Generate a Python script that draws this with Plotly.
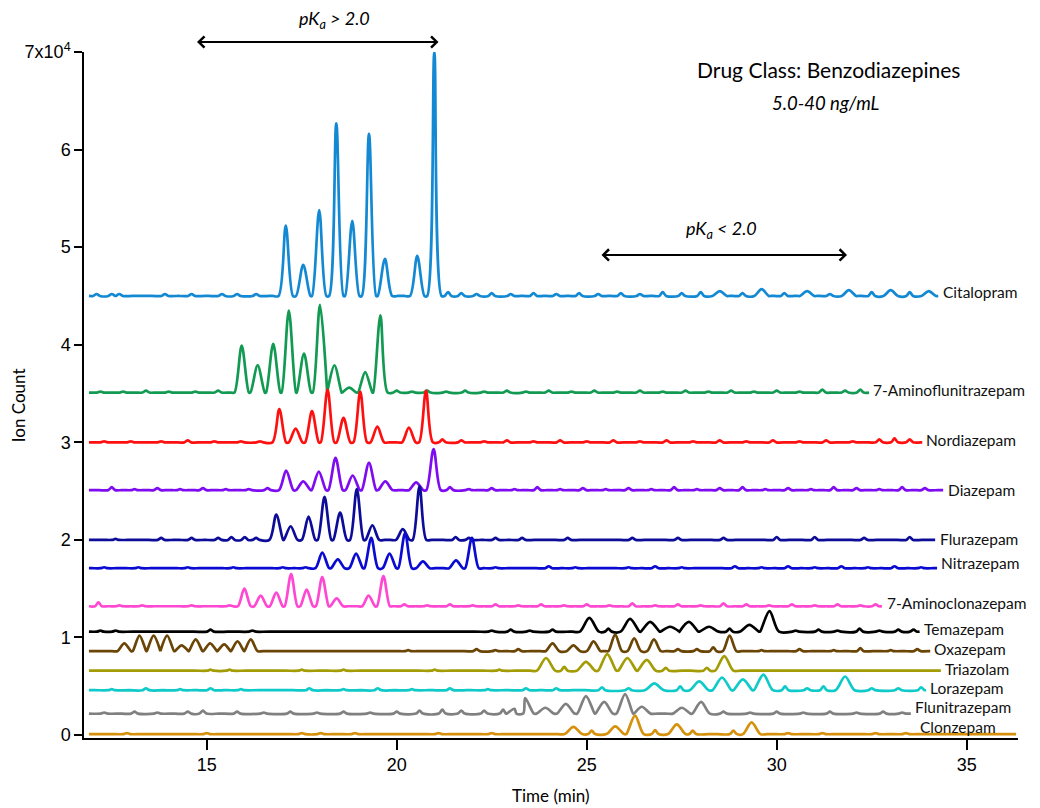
import plotly.graph_objects as go

# ---------------- data (ion count in units of 1e4, time in min) ----------------
names = ["Citalopram", "7-Aminoflunitrazepam", "Nordiazepam", "Diazepam", "Flurazepam",
         "Nitrazepam", "7-Aminoclonazepam", "Temazepam", "Oxazepam", "Triazolam",
         "Lorazepam", "Flunitrazepam", "Clonzepam"]
colors = ["#1489d3", "#129a52", "#ff1010", "#7f0cf0", "#0c0c98", "#0a0ad2", "#ff48d2",
          "#000000", "#6b4506", "#a39c05", "#10c9c9", "#808080", "#d5900c"]
baselines = [4.50, 3.51, 3.00, 2.51, 2.00, 1.71, 1.32, 1.06, 0.86, 0.66, 0.46, 0.22, 0.01]
start_time = [11.9, 11.9, 11.9, 11.9, 11.9, 11.9, 11.9, 11.9, 11.9, 11.9, 11.9, 11.9, 11.9]
end_time = [34.25, 32.43, 33.83, 34.38, 34.17, 34.22, 32.77, 33.76, 34.04, 34.32, 33.93, 33.53, 36.30]
peak_halfwidth = [0.19, 0.19, 0.18, 0.19, 0.18, 0.18, 0.17, 0.25, 0.18, 0.24, 0.25, 0.23, 0.23]

citalopram_t = [12.1, 12.5, 12.7, 13.9, 14.6, 15.4, 15.8, 16.3,
                17.08, 17.54, 17.96, 18.41, 18.83, 19.27, 19.69, 20.54, 20.99,
                21.35, 21.7, 22.1, 22.5, 23.0, 23.6, 24.2, 24.8, 25.3, 25.9, 26.4, 27.0, 27.5,
                28.0, 28.5, 29.1, 29.6, 30.2, 30.8, 31.4, 31.9, 32.5, 33.0, 33.5, 34.0]
citalopram_y = [4.52, 4.52, 4.52, 4.52, 4.52, 4.52, 4.52, 4.52,
                5.22, 4.82, 5.38, 6.27, 5.27, 6.16, 4.88, 4.91, 7.00,
                4.54, 4.53, 4.52, 4.53, 4.52, 4.53, 4.52, 4.53, 4.52, 4.53, 4.52, 4.54, 4.53,
                4.54, 4.55, 4.53, 4.57, 4.53, 4.55, 4.52, 4.56, 4.54, 4.56, 4.54, 4.55]

aminoflu_t = [12.2, 12.8, 13.4, 14.0, 14.7, 15.3,
              15.92, 16.34, 16.75, 17.16, 17.56, 17.98, 18.36, 18.75, 19.17, 19.57,
              20.0, 20.4, 20.8, 21.3, 21.8, 22.3, 22.9, 23.4, 24.0, 24.6, 25.2, 25.8, 26.4,
              27.0, 27.6, 28.2, 28.8, 29.4, 30.0, 30.6, 31.2, 31.8, 32.2]
aminoflu_y = [3.52, 3.52, 3.53, 3.52, 3.52, 3.53,
              3.99, 3.79, 4.01, 4.35, 3.91, 4.41, 3.79, 3.56, 3.72, 4.30,
              3.53, 3.52, 3.53, 3.52, 3.53, 3.52, 3.53, 3.52, 3.53, 3.52, 3.53, 3.52, 3.53,
              3.52, 3.53, 3.52, 3.53, 3.52, 3.53, 3.52, 3.54, 3.53, 3.54]

nordiazepam_t = [12.3, 13.0, 13.8, 14.5, 15.2, 15.9, 16.4,
                 16.91, 17.34, 17.77, 18.18, 18.60, 19.04, 19.49, 20.32, 20.77,
                 21.2, 21.7, 22.3, 22.9, 23.6, 24.3, 25.0, 25.7, 26.4, 27.1, 27.8, 28.5,
                 29.2, 29.9, 30.6, 31.3, 32.0, 32.7, 33.1, 33.5]
nordiazepam_y = [3.01, 3.01, 3.01, 3.02, 3.01, 3.01, 3.01,
                 3.34, 3.14, 3.32, 3.54, 3.25, 3.52, 3.16, 3.15, 3.53,
                 3.03, 3.02, 3.01, 3.02, 3.01, 3.02, 3.01, 3.02, 3.01, 3.02, 3.01, 3.02,
                 3.01, 3.02, 3.01, 3.02, 3.01, 3.03, 3.04, 3.03]

diazepam_t = [12.5, 13.1, 13.7, 14.3, 14.9, 15.5, 16.1, 16.6,
              17.09, 17.54, 17.95, 18.39, 18.84, 19.27, 19.70, 20.51, 20.97,
              21.4, 21.9, 22.5, 23.1, 23.7, 24.3, 24.9, 25.5, 26.1, 26.7, 27.3, 27.9,
              28.5, 29.1, 29.7, 30.3, 30.9, 31.5, 32.1, 32.7, 33.3, 33.9]
diazepam_y = [2.54, 2.52, 2.53, 2.52, 2.53, 2.52, 2.52, 2.53,
              2.71, 2.60, 2.70, 2.84, 2.66, 2.79, 2.60, 2.59, 2.93,
              2.54, 2.52, 2.53, 2.52, 2.54, 2.52, 2.53, 2.52, 2.53, 2.52, 2.54, 2.52,
              2.53, 2.54, 2.52, 2.53, 2.52, 2.54, 2.53, 2.52, 2.54, 2.53]

flurazepam_t = [12.6, 13.8, 14.6, 15.3, 15.65, 16.0, 16.3,
                16.83, 17.21, 17.68, 18.10, 18.51, 18.95, 19.36, 20.16, 20.60,
                21.55, 21.9, 22.6, 23.3, 24.5, 26.2, 27.4, 28.6, 30.0, 31.0, 32.3, 33.5]
flurazepam_y = [2.01, 2.02, 2.02, 2.02, 2.03, 2.03, 2.02,
                2.26, 2.14, 2.24, 2.44, 2.28, 2.52, 2.15, 2.11, 2.55,
                2.03, 2.02, 2.02, 2.02, 2.02, 2.02, 2.02, 2.02, 2.03, 2.03, 2.02, 2.03]

nitrazepam_t = [12.3, 13.2, 13.9, 14.5, 15.1, 15.7, 16.4, 17.0, 17.6,
                18.04, 18.45, 18.93, 19.33, 19.81, 20.22, 20.69, 21.56, 21.98,
                22.6, 23.3, 24.0, 24.7, 25.4, 26.1, 26.8, 27.5, 28.2, 28.9, 29.6,
                30.3, 31.0, 31.7, 32.4, 33.1, 33.8]
nitrazepam_y = [1.72, 1.72, 1.71, 1.72, 1.71, 1.72, 1.71, 1.72, 1.72,
                1.87, 1.80, 1.86, 2.02, 1.86, 2.07, 1.78, 1.79, 2.02,
                1.72, 1.71, 1.73, 1.72, 1.71, 1.72, 1.73, 1.72, 1.71, 1.73, 1.72,
                1.73, 1.72, 1.73, 1.72, 1.73, 1.72]

aminoclon_t = [12.15, 12.7, 13.3, 13.9, 14.6, 15.2, 15.6,
               15.99, 16.42, 16.83, 17.22, 17.63, 18.04, 18.42, 19.26, 19.65,
               20.2, 20.8, 21.4, 22.0, 22.6, 23.2, 23.8, 24.4, 25.0, 25.6, 26.2, 26.8,
               27.4, 28.0, 28.6, 29.2, 29.8, 30.4, 31.0, 31.6, 32.2, 32.6]
aminoclon_y = [1.36, 1.33, 1.33, 1.32, 1.33, 1.32, 1.33,
               1.50, 1.43, 1.46, 1.65, 1.49, 1.62, 1.40, 1.43, 1.63,
               1.34, 1.33, 1.34, 1.33, 1.34, 1.33, 1.34, 1.33, 1.34, 1.33, 1.35, 1.33,
               1.34, 1.33, 1.35, 1.34, 1.33, 1.34, 1.33, 1.34, 1.33, 1.34]

temazepam_t = [12.2, 12.6, 15.1, 16.2, 22.5, 23.0, 23.5, 24.1,
               25.07, 25.57, 26.14, 26.67, 27.19, 27.69, 28.22, 28.76, 29.28, 29.81,
               30.5, 31.1, 31.6, 32.18, 32.7, 33.2, 33.6]
temazepam_y = [1.07, 1.07, 1.08, 1.07, 1.07, 1.08, 1.07, 1.08,
               1.20, 1.09, 1.19, 1.16, 1.11, 1.16, 1.11, 1.09, 1.13, 1.27,
               1.07, 1.08, 1.07, 1.09, 1.07, 1.08, 1.08]

oxazepam_t = [12.83, 13.23, 13.60, 13.96, 14.34, 14.71, 15.09, 15.46, 15.81, 16.16,
              20.3, 22.1, 22.6, 23.2,
              24.10, 24.65, 25.18, 25.75, 26.25, 26.77, 27.4, 27.9, 28.33, 28.76,
              29.6, 30.6, 31.5, 32.2, 33.0, 33.7]
oxazepam_y = [0.94, 1.02, 1.02, 1.02, 0.92, 0.98, 0.94, 0.93, 0.96, 0.98,
              0.87, 0.88, 0.87, 0.88,
              0.94, 0.92, 0.96, 1.03, 0.99, 0.98, 0.88, 0.88, 0.90, 1.02,
              0.87, 0.88, 0.87, 0.89, 0.87, 0.88]

triazolam_t = [15.1, 15.6, 17.5, 18.6, 21.0, 22.7,
               23.93, 24.41, 24.98, 25.54, 26.07, 26.58, 27.08, 28.16, 28.62]
triazolam_y = [0.67, 0.67, 0.67, 0.67, 0.67, 0.67,
               0.79, 0.70, 0.75, 0.83, 0.79, 0.77, 0.69, 0.69, 0.81]

lorazepam_t = [12.5, 13.4, 14.3, 15.1, 15.9, 17.7, 18.6, 19.5, 20.4, 21.4, 22.4, 23.4,
               24.2, 25.4, 26.1,
               26.78, 27.46, 27.96, 28.56, 29.11, 29.65, 30.22, 30.8, 31.23, 31.80,
               32.5, 33.2, 33.8]
lorazepam_y = [0.47, 0.48, 0.47, 0.48, 0.47, 0.48, 0.47, 0.48, 0.47, 0.48, 0.47, 0.48,
               0.48, 0.49, 0.48,
               0.53, 0.50, 0.55, 0.59, 0.57, 0.62, 0.50, 0.48, 0.50, 0.60,
               0.48, 0.48, 0.49]

flunitra_t = [12.3, 13.1, 13.7, 14.5, 14.9, 15.8, 16.5, 17.2, 17.9, 18.6, 19.3, 20.0,
              20.6, 21.2, 21.7, 22.3, 22.8, 23.1,
              23.38, 23.91, 24.45, 24.98, 25.46, 26.01, 26.45, 27.50, 28.01,
              28.6, 29.3, 30.0, 30.7, 31.4, 32.1, 32.8, 33.3]
flunitra_y = [0.23, 0.24, 0.23, 0.24, 0.25, 0.24, 0.23, 0.24, 0.23, 0.24, 0.23, 0.24,
              0.25, 0.26, 0.25, 0.25, 0.26, 0.27,
              0.38, 0.28, 0.32, 0.40, 0.34, 0.42, 0.29, 0.28, 0.34,
              0.24, 0.23, 0.24, 0.23, 0.24, 0.23, 0.24, 0.23]

clonzepam_t = [12.9, 15.0, 17.5, 18.0, 18.9, 21.1, 22.5,
               24.65, 25.13, 25.75, 26.27, 26.80, 27.37, 27.79, 28.86, 29.34,
               30.3, 31.2, 32.6, 33.4]
clonzepam_y = [0.02, 0.02, 0.02, 0.02, 0.02, 0.02, 0.02,
               0.085, 0.045, 0.09, 0.20, 0.05, 0.11, 0.045, 0.045, 0.13,
               0.02, 0.02, 0.02, 0.02]

peak_times = [citalopram_t, aminoflu_t, nordiazepam_t, diazepam_t, flurazepam_t, nitrazepam_t,
              aminoclon_t, temazepam_t, oxazepam_t, triazolam_t, lorazepam_t, flunitra_t,
              clonzepam_t]
peak_values = [citalopram_y, aminoflu_y, nordiazepam_y, diazepam_y, flurazepam_y, nitrazepam_y,
               aminoclon_y, temazepam_y, oxazepam_y, triazolam_y, lorazepam_y, flunitra_y,
               clonzepam_y]

x_ticks = [15, 20, 25, 30, 35]
y_ticks = [0, 1, 2, 3, 4, 5, 6, 7]
y_ticktext = ["0", "1", "2", "3", "4", "5", "6", "7x10<sup>4</sup>"]

# ---------------- figure ----------------
label_dy = [0.04, 0.03, 0.02, 0.0, 0.01, 0.05, 0.03, 0.022, 0.022, 0.022, 0.022, 0.063, 0.073]
label_x = [34.33, 32.48, 33.88, 34.45, 34.24, 34.28, 32.85, 33.83, 34.09, 34.37, 33.98, 33.59, 33.72]

fig = go.Figure()
for i, name in enumerate(names):
    base = baselines[i]
    w = peak_halfwidth[i]
    tlist = peak_times[i]
    pts = [(start_time[i], base), (end_time[i], base)]
    for t, v in zip(tlist, peak_values[i]):
        ww = w if (v - base) > 0.045 else 0.09
        pts += [(t - ww, base), (t, v), (t + ww, base)]
    # flat anchors so the smoothed line stays on the baseline away from peaks
    anchors = []
    for t in tlist:
        anchors += [t - 1.8 * w, t + 1.8 * w]
    for a in anchors:
        if all(abs(a - t) > 1.3 * w for t in tlist):
            pts.append((a, base))
    pts = sorted(p for p in pts if start_time[i] <= p[0] <= end_time[i])
    fig.add_trace(go.Scatter(
        x=[p[0] for p in pts], y=[p[1] for p in pts], mode="lines",
        line=dict(color=colors[i], width=2.7, shape="spline", smoothing=0.9),
        name=name, showlegend=False, hoverinfo="skip"))
    fig.add_annotation(x=label_x[i], y=base + label_dy[i], text=name, showarrow=False,
                       xanchor="left", yanchor="middle",
                       font=dict(family="Lato, sans-serif", size=15.5, color="#111111"))

# pKa arrows and texts
fig.add_annotation(x=21.1, y=1.0146, xref="x", yref="paper", axref="pixel", ayref="pixel",
                   ax=-243, ay=0, text="", showarrow=True, arrowhead=4, arrowside="end+start",
                   arrowsize=1.1, arrowwidth=2, arrowcolor="black")
fig.add_annotation(x=18.35, y=1.047, xref="x", yref="paper", xanchor="center", yanchor="middle",
                   text="<i>pK<sub>a</sub> &gt; 2.0</i>", showarrow=False,
                   font=dict(family="Lato, sans-serif", size=18, color="black"))
fig.add_annotation(x=31.85, y=4.92, ax=25.35, ay=4.92, xref="x", yref="y", axref="x", ayref="y",
                   text="", showarrow=True, arrowhead=4, arrowside="end+start",
                   arrowsize=1.1, arrowwidth=2, arrowcolor="black")
fig.add_annotation(x=28.55, y=5.18, xanchor="center", yanchor="middle",
                   text="<i>pK<sub>a</sub> &lt; 2.0</i>", showarrow=False,
                   font=dict(family="Lato, sans-serif", size=18, color="black"))

fig.add_annotation(x=0.797, y=0.975, xref="paper", yref="paper", xanchor="center",
                   yanchor="middle", text="Drug Class: Benzodiazepines", showarrow=False,
                   font=dict(family="Lato, sans-serif", size=21, color="black"))
fig.add_annotation(x=0.794, y=0.926, xref="paper", yref="paper", xanchor="center",
                   yanchor="middle", text="<i>5.0-40 ng/mL</i>", showarrow=False,
                   font=dict(family="Lato, sans-serif", size=18.5, color="black"))

# axis titles
fig.add_annotation(x=0.5, y=-0.084, xref="paper", yref="paper", text="Time (min)",
                   showarrow=False, xanchor="center", yanchor="middle",
                   font=dict(family="Lato, sans-serif", size=17, color="black"))
fig.add_annotation(x=-0.0707, y=0.485, xref="paper", yref="paper", text="Ion Count",
                   showarrow=False, textangle=-90, xanchor="center", yanchor="middle",
                   font=dict(family="Lato, sans-serif", size=17, color="black"))

fig.update_layout(
    width=1040, height=808,
    margin=dict(l=84, r=22, t=52, b=70, autoexpand=False),
    paper_bgcolor="white", plot_bgcolor="white",
    xaxis=dict(range=[11.77, 36.35], tickvals=x_ticks, ticks="outside", ticklen=10,
               tickwidth=1.5, tickcolor="black", showline=True, linecolor="black",
               linewidth=1.5, showgrid=False, zeroline=False, automargin=False,
               tickfont=dict(family="Liberation Sans, Arial", size=18, color="black")),
    yaxis=dict(range=[-0.03, 7.0], tickvals=y_ticks, ticktext=y_ticktext, ticks="outside",
               ticklen=8, tickwidth=1.5, tickcolor="black", showline=True,
               linecolor="black", linewidth=1.5, showgrid=False, zeroline=False,
               automargin=False,
               tickfont=dict(family="Liberation Sans, Arial", size=18, color="black")),
)

fig.write_html("out.html")
